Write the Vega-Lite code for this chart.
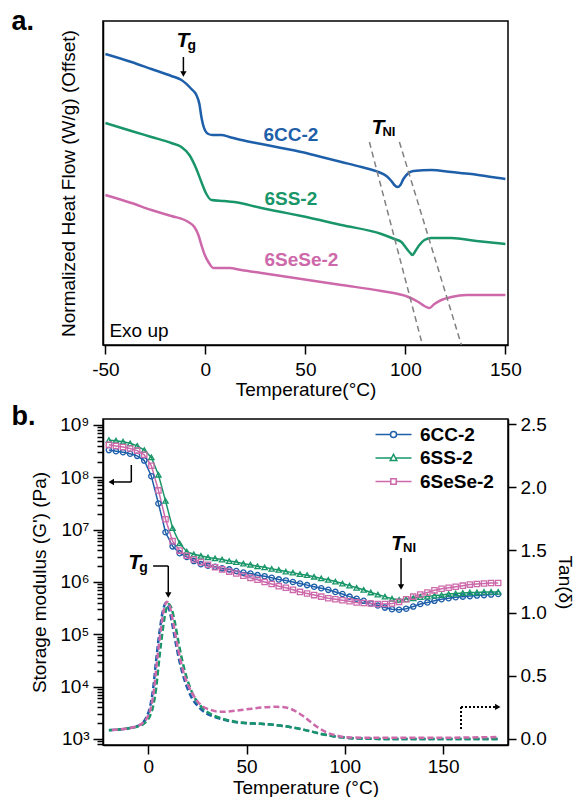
{
"$schema": "https://vega.github.io/schema/vega-lite/v6.json",
"autosize": {"type": "pad"},
"padding": {"left": 10, "top": 7, "right": 0, "bottom": 0},
"background": "white",
"bounds": "flush",
"spacing": 74,
"resolve": {"scale": {"color": "independent"}, "legend": {"color": "independent"}},
"config": {
  "font": "Liberation Sans",
  "view": {"stroke": "black", "strokeWidth": 1.5},
  "axis": {"domainColor": "black", "domainWidth": 1.5, "tickColor": "black", "tickWidth": 1.5, "labelColor": "black", "titleColor": "black", "labelFont": "Liberation Sans", "titleFont": "Liberation Sans", "labelFontSize": 19, "titleFontSize": 19, "titleFontWeight": "normal", "grid": false},
  "text": {"font": "Liberation Sans"}
},
"datasets": {
  "dsc": [
    {"s":"6CC-2","T":-50,"v":291},{"s":"6CC-2","T":-37,"v":283},{"s":"6CC-2","T":-27,"v":276},{"s":"6CC-2","T":-17,"v":269},{"s":"6CC-2","T":-12,"v":265},{"s":"6CC-2","T":-7,"v":256},{"s":"6CC-2","T":-4.5,"v":250},{"s":"6CC-2","T":-3,"v":241},{"s":"6CC-2","T":-2,"v":228},{"s":"6CC-2","T":-1,"v":219},{"s":"6CC-2","T":0,"v":214},{"s":"6CC-2","T":1.5,"v":211},{"s":"6CC-2","T":3.5,"v":210},{"s":"6CC-2","T":8,"v":210},{"s":"6CC-2","T":12,"v":208},{"s":"6CC-2","T":18,"v":205},{"s":"6CC-2","T":28,"v":201},{"s":"6CC-2","T":38,"v":197},{"s":"6CC-2","T":48,"v":193},{"s":"6CC-2","T":58,"v":188},{"s":"6CC-2","T":68,"v":183},{"s":"6CC-2","T":78,"v":178},{"s":"6CC-2","T":86.5,"v":173},{"s":"6CC-2","T":90.5,"v":169},{"s":"6CC-2","T":93,"v":164},{"s":"6CC-2","T":94.5,"v":160},{"s":"6CC-2","T":96,"v":158},{"s":"6CC-2","T":97.5,"v":160},{"s":"6CC-2","T":99,"v":166},{"s":"6CC-2","T":101,"v":171},{"s":"6CC-2","T":104,"v":174},{"s":"6CC-2","T":113,"v":175},{"s":"6CC-2","T":123,"v":173},{"s":"6CC-2","T":133,"v":171},{"s":"6CC-2","T":143,"v":168},{"s":"6CC-2","T":150,"v":166},
    {"s":"6SS-2","T":-50,"v":222},{"s":"6SS-2","T":-37,"v":214},{"s":"6SS-2","T":-27,"v":208},{"s":"6SS-2","T":-17,"v":202},{"s":"6SS-2","T":-12,"v":198},{"s":"6SS-2","T":-8,"v":190},{"s":"6SS-2","T":-4.5,"v":176},{"s":"6SS-2","T":-2,"v":163},{"s":"6SS-2","T":0.5,"v":151},{"s":"6SS-2","T":3,"v":145},{"s":"6SS-2","T":9.5,"v":144},{"s":"6SS-2","T":14.5,"v":143},{"s":"6SS-2","T":28,"v":137},{"s":"6SS-2","T":38,"v":133},{"s":"6SS-2","T":48,"v":129},{"s":"6SS-2","T":68,"v":120},{"s":"6SS-2","T":88,"v":111},{"s":"6SS-2","T":94.5,"v":106},{"s":"6SS-2","T":98,"v":103},{"s":"6SS-2","T":100,"v":98},{"s":"6SS-2","T":102,"v":93},{"s":"6SS-2","T":103.5,"v":90},{"s":"6SS-2","T":105,"v":94},{"s":"6SS-2","T":107,"v":100},{"s":"6SS-2","T":109.5,"v":105},{"s":"6SS-2","T":113,"v":107},{"s":"6SS-2","T":123,"v":107},{"s":"6SS-2","T":135.5,"v":104},{"s":"6SS-2","T":150,"v":101},
    {"s":"6SeSe-2","T":-50,"v":150},{"s":"6SeSe-2","T":-37,"v":142},{"s":"6SeSe-2","T":-27,"v":135},{"s":"6SeSe-2","T":-17,"v":129},{"s":"6SeSe-2","T":-8.5,"v":123},{"s":"6SeSe-2","T":-5.5,"v":118},{"s":"6SeSe-2","T":-3.5,"v":110},{"s":"6SeSe-2","T":-2,"v":100},{"s":"6SeSe-2","T":-0.5,"v":91},{"s":"6SeSe-2","T":1.5,"v":83},{"s":"6SeSe-2","T":4,"v":77},{"s":"6SeSe-2","T":8,"v":77},{"s":"6SeSe-2","T":12,"v":77},{"s":"6SeSe-2","T":18,"v":75},{"s":"6SeSe-2","T":28,"v":72},{"s":"6SeSe-2","T":38,"v":69},{"s":"6SeSe-2","T":48,"v":66},{"s":"6SeSe-2","T":68,"v":60},{"s":"6SeSe-2","T":88,"v":54},{"s":"6SeSe-2","T":101.5,"v":48},{"s":"6SeSe-2","T":106.5,"v":43},{"s":"6SeSe-2","T":109.5,"v":39},{"s":"6SeSe-2","T":112,"v":37},{"s":"6SeSe-2","T":114.5,"v":41},{"s":"6SeSe-2","T":118,"v":45},{"s":"6SeSe-2","T":123,"v":48},{"s":"6SeSe-2","T":130.5,"v":50},{"s":"6SeSe-2","T":140.5,"v":50},{"s":"6SeSe-2","T":150,"v":50}
  ],
  "gp": [
    {"T":-20,"6CC-2":3.31e8,"6SS-2":5.13e8,"6SeSe-2":4.17e8},
    {"T":-16.4,"6CC-2":3.16e8,"6SS-2":5.01e8,"6SeSe-2":3.98e8},
    {"T":-12.8,"6CC-2":3.02e8,"6SS-2":4.79e8,"6SeSe-2":3.80e8},
    {"T":-9.2,"6CC-2":2.82e8,"6SS-2":4.47e8,"6SeSe-2":3.55e8},
    {"T":-5.6,"6CC-2":2.57e8,"6SS-2":3.98e8,"6SeSe-2":3.24e8},
    {"T":-2,"6CC-2":2.09e8,"6SS-2":3.31e8,"6SeSe-2":2.69e8},
    {"T":1.6,"6CC-2":1.05e8,"6SS-2":2.40e8,"6SeSe-2":1.66e8},
    {"T":5.2,"6CC-2":3.16e7,"6SS-2":1.12e8,"6SeSe-2":5.62e7},
    {"T":8.8,"6CC-2":8.91e6,"6SS-2":3.55e7,"6SeSe-2":1.58e7},
    {"T":12.4,"6CC-2":4.79e6,"6SS-2":1.07e7,"6SeSe-2":6.03e6},
    {"T":16,"6CC-2":3.55e6,"6SS-2":5.50e6,"6SeSe-2":3.98e6},
    {"T":19.6,"6CC-2":3.02e6,"6SS-2":3.80e6,"6SeSe-2":3.16e6},
    {"T":23.2,"6CC-2":2.51e6,"6SS-2":3.39e6,"6SeSe-2":2.69e6},
    {"T":26.8,"6CC-2":2.19e6,"6SS-2":3.16e6,"6SeSe-2":2.40e6},
    {"T":30.4,"6CC-2":2.04e6,"6SS-2":2.95e6,"6SeSe-2":2.14e6},
    {"T":34,"6CC-2":1.95e6,"6SS-2":2.82e6,"6SeSe-2":1.91e6},
    {"T":37.6,"6CC-2":1.82e6,"6SS-2":2.69e6,"6SeSe-2":1.74e6},
    {"T":41.2,"6CC-2":1.74e6,"6SS-2":2.51e6,"6SeSe-2":1.58e6},
    {"T":44.8,"6CC-2":1.62e6,"6SS-2":2.40e6,"6SeSe-2":1.45e6},
    {"T":48.4,"6CC-2":1.51e6,"6SS-2":2.24e6,"6SeSe-2":1.32e6},
    {"T":52,"6CC-2":1.45e6,"6SS-2":2.14e6,"6SeSe-2":1.20e6},
    {"T":55.6,"6CC-2":1.35e6,"6SS-2":2.00e6,"6SeSe-2":1.10e6},
    {"T":59.2,"6CC-2":1.29e6,"6SS-2":1.91e6,"6SeSe-2":1.00e6},
    {"T":62.8,"6CC-2":1.20e6,"6SS-2":1.78e6,"6SeSe-2":9.12e5},
    {"T":66.4,"6CC-2":1.12e6,"6SS-2":1.70e6,"6SeSe-2":8.32e5},
    {"T":70,"6CC-2":1.07e6,"6SS-2":1.58e6,"6SeSe-2":7.76e5},
    {"T":73.6,"6CC-2":1.00e6,"6SS-2":1.51e6,"6SeSe-2":7.08e5},
    {"T":77.2,"6CC-2":9.33e5,"6SS-2":1.41e6,"6SeSe-2":6.46e5},
    {"T":80.8,"6CC-2":8.71e5,"6SS-2":1.35e6,"6SeSe-2":6.03e5},
    {"T":84.4,"6CC-2":8.13e5,"6SS-2":1.26e6,"6SeSe-2":5.62e5},
    {"T":88,"6CC-2":7.59e5,"6SS-2":1.17e6,"6SeSe-2":5.25e5},
    {"T":91.6,"6CC-2":7.08e5,"6SS-2":1.10e6,"6SeSe-2":4.90e5},
    {"T":95.2,"6CC-2":6.46e5,"6SS-2":1.02e6,"6SeSe-2":4.68e5},
    {"T":98.8,"6CC-2":5.89e5,"6SS-2":9.33e5,"6SeSe-2":4.47e5},
    {"T":102.4,"6CC-2":5.25e5,"6SS-2":8.51e5,"6SeSe-2":4.27e5},
    {"T":106,"6CC-2":4.79e5,"6SS-2":7.76e5,"6SeSe-2":4.07e5},
    {"T":109.6,"6CC-2":4.37e5,"6SS-2":7.08e5,"6SeSe-2":3.98e5},
    {"T":113.2,"6CC-2":3.89e5,"6SS-2":6.31e5,"6SeSe-2":3.89e5},
    {"T":116.8,"6CC-2":3.55e5,"6SS-2":5.75e5,"6SeSe-2":3.80e5},
    {"T":120.4,"6CC-2":3.24e5,"6SS-2":5.25e5,"6SeSe-2":3.80e5},
    {"T":124,"6CC-2":3.02e5,"6SS-2":4.79e5,"6SeSe-2":3.89e5},
    {"T":127.6,"6CC-2":2.95e5,"6SS-2":4.57e5,"6SeSe-2":4.17e5},
    {"T":131.2,"6CC-2":3.09e5,"6SS-2":4.68e5,"6SeSe-2":4.68e5},
    {"T":134.8,"6CC-2":3.39e5,"6SS-2":4.90e5,"6SeSe-2":5.25e5},
    {"T":138.4,"6CC-2":3.80e5,"6SS-2":5.13e5,"6SeSe-2":5.75e5},
    {"T":142,"6CC-2":4.07e5,"6SS-2":5.25e5,"6SeSe-2":6.31e5},
    {"T":145.6,"6CC-2":4.37e5,"6SS-2":5.50e5,"6SeSe-2":6.92e5},
    {"T":149.2,"6CC-2":4.68e5,"6SS-2":5.62e5,"6SeSe-2":7.41e5},
    {"T":152.8,"6CC-2":4.90e5,"6SS-2":5.89e5,"6SeSe-2":7.76e5},
    {"T":156.4,"6CC-2":5.13e5,"6SS-2":6.03e5,"6SeSe-2":8.13e5},
    {"T":160,"6CC-2":5.25e5,"6SS-2":6.17e5,"6SeSe-2":8.51e5},
    {"T":163.6,"6CC-2":5.37e5,"6SS-2":6.31e5,"6SeSe-2":8.91e5},
    {"T":167.2,"6CC-2":5.50e5,"6SS-2":6.31e5,"6SeSe-2":9.12e5},
    {"T":170.8,"6CC-2":5.62e5,"6SS-2":6.46e5,"6SeSe-2":9.33e5},
    {"T":174.4,"6CC-2":5.75e5,"6SS-2":6.46e5,"6SeSe-2":9.55e5},
    {"T":178,"6CC-2":5.89e5,"6SS-2":6.46e5,"6SeSe-2":9.55e5}
  ],
  "tan": [
    {"s":"6CC-2","T":-20,"tan":0.07},{"s":"6CC-2","T":-15,"tan":0.075},{"s":"6CC-2","T":-10,"tan":0.085},{"s":"6CC-2","T":-6,"tan":0.1},{"s":"6CC-2","T":-3,"tan":0.125},{"s":"6CC-2","T":-1,"tan":0.17},{"s":"6CC-2","T":1,"tan":0.26},{"s":"6CC-2","T":2.5,"tan":0.4},{"s":"6CC-2","T":4,"tan":0.62},{"s":"6CC-2","T":6,"tan":0.88},{"s":"6CC-2","T":7.5,"tan":1.02},{"s":"6CC-2","T":9,"tan":1.08},{"s":"6CC-2","T":10.5,"tan":1.04},{"s":"6CC-2","T":12,"tan":0.93},{"s":"6CC-2","T":14,"tan":0.76},{"s":"6CC-2","T":16,"tan":0.61},{"s":"6CC-2","T":18,"tan":0.49},{"s":"6CC-2","T":20,"tan":0.4},{"s":"6CC-2","T":22,"tan":0.33},{"s":"6CC-2","T":25,"tan":0.265},{"s":"6CC-2","T":28,"tan":0.22},{"s":"6CC-2","T":32,"tan":0.185},{"s":"6CC-2","T":38,"tan":0.155},{"s":"6CC-2","T":44,"tan":0.135},{"s":"6CC-2","T":50,"tan":0.125},{"s":"6CC-2","T":57,"tan":0.12},{"s":"6CC-2","T":65,"tan":0.11},{"s":"6CC-2","T":72,"tan":0.095},{"s":"6CC-2","T":80,"tan":0.07},{"s":"6CC-2","T":88,"tan":0.04},{"s":"6CC-2","T":95,"tan":0.02},{"s":"6CC-2","T":102,"tan":0.008},{"s":"6CC-2","T":110,"tan":0.003},{"s":"6CC-2","T":120,"tan":0},{"s":"6CC-2","T":140,"tan":0},{"s":"6CC-2","T":160,"tan":0},{"s":"6CC-2","T":178,"tan":0},
    {"s":"6SS-2","T":-20,"tan":0.07},{"s":"6SS-2","T":-15,"tan":0.075},{"s":"6SS-2","T":-10,"tan":0.085},{"s":"6SS-2","T":-5,"tan":0.1},{"s":"6SS-2","T":-2,"tan":0.125},{"s":"6SS-2","T":0.5,"tan":0.17},{"s":"6SS-2","T":2.5,"tan":0.26},{"s":"6SS-2","T":4,"tan":0.4},{"s":"6SS-2","T":5.5,"tan":0.62},{"s":"6SS-2","T":7.5,"tan":0.88},{"s":"6SS-2","T":9,"tan":1.02},{"s":"6SS-2","T":10.5,"tan":1.07},{"s":"6SS-2","T":12,"tan":1.03},{"s":"6SS-2","T":13.5,"tan":0.93},{"s":"6SS-2","T":15.5,"tan":0.76},{"s":"6SS-2","T":17.5,"tan":0.61},{"s":"6SS-2","T":19.5,"tan":0.49},{"s":"6SS-2","T":21.5,"tan":0.4},{"s":"6SS-2","T":23.5,"tan":0.33},{"s":"6SS-2","T":26.5,"tan":0.265},{"s":"6SS-2","T":29.5,"tan":0.22},{"s":"6SS-2","T":33.5,"tan":0.185},{"s":"6SS-2","T":39,"tan":0.155},{"s":"6SS-2","T":45,"tan":0.135},{"s":"6SS-2","T":51,"tan":0.125},{"s":"6SS-2","T":58,"tan":0.12},{"s":"6SS-2","T":65,"tan":0.11},{"s":"6SS-2","T":72,"tan":0.095},{"s":"6SS-2","T":80,"tan":0.07},{"s":"6SS-2","T":88,"tan":0.04},{"s":"6SS-2","T":95,"tan":0.02},{"s":"6SS-2","T":102,"tan":0.008},{"s":"6SS-2","T":110,"tan":0.003},{"s":"6SS-2","T":120,"tan":0},{"s":"6SS-2","T":140,"tan":0},{"s":"6SS-2","T":160,"tan":0},{"s":"6SS-2","T":178,"tan":0},
    {"s":"6SeSe-2","T":-20,"tan":0.07},{"s":"6SeSe-2","T":-15,"tan":0.075},{"s":"6SeSe-2","T":-10,"tan":0.085},{"s":"6SeSe-2","T":-6,"tan":0.1},{"s":"6SeSe-2","T":-3,"tan":0.125},{"s":"6SeSe-2","T":-0.5,"tan":0.17},{"s":"6SeSe-2","T":1.5,"tan":0.26},{"s":"6SeSe-2","T":3,"tan":0.4},{"s":"6SeSe-2","T":4.5,"tan":0.62},{"s":"6SeSe-2","T":6.5,"tan":0.88},{"s":"6SeSe-2","T":8,"tan":1.03},{"s":"6SeSe-2","T":9.5,"tan":1.09},{"s":"6SeSe-2","T":11,"tan":1.05},{"s":"6SeSe-2","T":12.5,"tan":0.94},{"s":"6SeSe-2","T":14.5,"tan":0.77},{"s":"6SeSe-2","T":16.5,"tan":0.62},{"s":"6SeSe-2","T":18.5,"tan":0.5},{"s":"6SeSe-2","T":20.5,"tan":0.42},{"s":"6SeSe-2","T":22.5,"tan":0.36},{"s":"6SeSe-2","T":25,"tan":0.3},{"s":"6SeSe-2","T":28,"tan":0.255},{"s":"6SeSe-2","T":32,"tan":0.23},{"s":"6SeSe-2","T":36,"tan":0.215},{"s":"6SeSe-2","T":42,"tan":0.22},{"s":"6SeSe-2","T":50,"tan":0.235},{"s":"6SeSe-2","T":58,"tan":0.25},{"s":"6SeSe-2","T":65,"tan":0.255},{"s":"6SeSe-2","T":70,"tan":0.25},{"s":"6SeSe-2","T":75,"tan":0.22},{"s":"6SeSe-2","T":79,"tan":0.18},{"s":"6SeSe-2","T":83,"tan":0.13},{"s":"6SeSe-2","T":87,"tan":0.085},{"s":"6SeSe-2","T":91,"tan":0.05},{"s":"6SeSe-2","T":95,"tan":0.03},{"s":"6SeSe-2","T":100,"tan":0.015},{"s":"6SeSe-2","T":110,"tan":0.01},{"s":"6SeSe-2","T":130,"tan":0.01},{"s":"6SeSe-2","T":150,"tan":0.01},{"s":"6SeSe-2","T":165,"tan":0.012},{"s":"6SeSe-2","T":178,"tan":0.015}
  ]
},
"vconcat": [
  {
    "width": 405, "height": 324,
    "layer": [
      {"data": {"name": "dsc"}, "mark": {"type": "line", "strokeWidth": 2.5, "interpolate": "monotone"},
       "encoding": {
         "x": {"field": "T", "type": "quantitative", "title": "Temperature(°C)", "scale": {"domain": [-51.2, 151.3], "nice": false, "zero": false}, "axis": {"values": [-50, 0, 50, 100, 150], "labelExpr": "toString(datum.value)", "tickSize": 9, "labelPadding": 6, "titleY": 50, "titleBaseline": "alphabetic"}},
         "y": {"field": "v", "type": "quantitative", "title": "Normalized Heat Flow (W/g) (Offset)", "scale": {"domain": [0, 324], "nice": false, "zero": false}, "axis": {"labels": false, "ticks": false, "titleX": -35, "titleBaseline": "middle"}},
         "color": {"field": "s", "type": "nominal", "scale": {"domain": ["6CC-2", "6SS-2", "6SeSe-2"], "range": ["#1e5faa", "#199669", "#cd69aa"]}, "legend": null}
       }},
      {"data": {"values": [{}]}, "mark": {"type": "text", "text": "a.", "align": "left", "baseline": "alphabetic", "fontSize": 27, "fontWeight": "bold", "color": "black"},
       "encoding": {"x": {"datum": -97, "type": "quantitative"}, "y": {"datum": 315, "type": "quantitative"}}},
      {"data": {"values": [{}]}, "mark": {"type": "rule", "color": "#808080", "strokeWidth": 1.5, "strokeDash": [6, 4]},
       "encoding": {"x": {"datum": 82, "type": "quantitative"}, "x2": {"datum": 108}, "y": {"datum": 203, "type": "quantitative"}, "y2": {"datum": 4}}},
      {"data": {"values": [{}]}, "mark": {"type": "rule", "color": "#808080", "strokeWidth": 1.5, "strokeDash": [6, 4]},
       "encoding": {"x": {"datum": 97, "type": "quantitative"}, "x2": {"datum": 128}, "y": {"datum": 203, "type": "quantitative"}, "y2": {"datum": 0}}},
      {"data": {"values": [{}]}, "mark": {"type": "text", "text": "T", "align": "left", "baseline": "alphabetic", "fontSize": 21, "fontWeight": "bold", "fontStyle": "italic", "color": "black"},
       "encoding": {"x": {"datum": -14.5, "type": "quantitative"}, "y": {"datum": 298, "type": "quantitative"}}},
      {"data": {"values": [{}]}, "mark": {"type": "text", "text": "g", "align": "left", "baseline": "alphabetic", "fontSize": 14, "fontWeight": "bold", "color": "black"},
       "encoding": {"x": {"datum": -9, "type": "quantitative"}, "y": {"datum": 295, "type": "quantitative"}}},
      {"data": {"values": [{}]}, "mark": {"type": "rule", "color": "black", "strokeWidth": 1.5},
       "encoding": {"x": {"datum": -11, "type": "quantitative"}, "y": {"datum": 288, "type": "quantitative"}, "y2": {"datum": 273}}},
      {"data": {"values": [{}]}, "mark": {"type": "point", "shape": "triangle-down", "filled": true, "size": 40, "color": "black", "opacity": 1},
       "encoding": {"x": {"datum": -11, "type": "quantitative"}, "y": {"datum": 271, "type": "quantitative"}}},
      {"data": {"values": [{}]}, "mark": {"type": "text", "text": "T", "align": "left", "baseline": "alphabetic", "fontSize": 21, "fontWeight": "bold", "fontStyle": "italic", "color": "black"},
       "encoding": {"x": {"datum": 83, "type": "quantitative"}, "y": {"datum": 211, "type": "quantitative"}}},
      {"data": {"values": [{}]}, "mark": {"type": "text", "text": "NI", "align": "left", "baseline": "alphabetic", "fontSize": 13, "fontWeight": "bold", "color": "black"},
       "encoding": {"x": {"datum": 88.5, "type": "quantitative"}, "y": {"datum": 209, "type": "quantitative"}}},
      {"data": {"values": [{}]}, "mark": {"type": "text", "text": "6CC-2", "align": "left", "baseline": "middle", "fontSize": 19, "fontWeight": "bold", "color": "#1e5faa"},
       "encoding": {"x": {"datum": 29, "type": "quantitative"}, "y": {"datum": 210, "type": "quantitative"}}},
      {"data": {"values": [{}]}, "mark": {"type": "text", "text": "6SS-2", "align": "left", "baseline": "middle", "fontSize": 19, "fontWeight": "bold", "color": "#199669"},
       "encoding": {"x": {"datum": 29.5, "type": "quantitative"}, "y": {"datum": 146, "type": "quantitative"}}},
      {"data": {"values": [{}]}, "mark": {"type": "text", "text": "6SeSe-2", "align": "left", "baseline": "middle", "fontSize": 19, "fontWeight": "bold", "color": "#cd69aa"},
       "encoding": {"x": {"datum": 29.5, "type": "quantitative"}, "y": {"datum": 85, "type": "quantitative"}}},
      {"data": {"values": [{}]}, "mark": {"type": "text", "text": "Exo up", "align": "left", "baseline": "alphabetic", "fontSize": 19, "color": "black"},
       "encoding": {"x": {"datum": -48, "type": "quantitative"}, "y": {"datum": 8, "type": "quantitative"}}}
    ]
  },
  {
    "width": 405, "height": 326,
    "layer": [
      {
        "data": {"name": "gp"},
        "transform": [{"fold": ["6CC-2", "6SS-2", "6SeSe-2"], "as": ["s", "G"]}],
        "layer": [
          {"mark": {"type": "line", "strokeWidth": 1.5},
           "encoding": {
             "x": {"field": "T", "type": "quantitative", "title": "Temperature (°C)", "scale": {"domain": [-23, 183], "nice": false, "zero": false}, "axis": {"values": [0, 50, 100, 150], "tickSize": 9, "labelPadding": 3, "titleY": 48, "titleBaseline": "alphabetic"}},
             "y": {"field": "G", "type": "quantitative", "title": "Storage modulus (G') (Pa)", "scale": {"type": "log", "domain": [768, 1.3e9], "nice": false},
                   "axis": {"values": [800,900,1000,2000,3000,4000,5000,6000,7000,8000,9000,10000,20000,30000,40000,50000,60000,70000,80000,90000,100000,200000,300000,400000,500000,600000,700000,800000,900000,1000000,2000000,3000000,4000000,5000000,6000000,7000000,8000000,9000000,10000000,20000000,30000000,40000000,50000000,60000000,70000000,80000000,90000000,100000000,200000000,300000000,400000000,500000000,600000000,700000000,800000000,900000000,1000000000],
                            "labelExpr": "abs(log(datum.value)/LN10 - round(log(datum.value)/LN10)) < 0.01 ? '10' + ['⁰','¹','²','³','⁴','⁵','⁶','⁷','⁸','⁹'][round(log(datum.value)/LN10)] : ''",
                            "labelOverlap": false, "labelFlush": false, "labelPadding": 4,
                            "tickSize": {"condition": {"test": "abs(log(datum.value)/LN10 - round(log(datum.value)/LN10)) < 0.01", "value": 10}, "value": 6},
                            "titleX": -64, "titleBaseline": "middle"}},
             "color": {"field": "s", "type": "nominal", "scale": {"domain": ["6CC-2", "6SS-2", "6SeSe-2"], "range": ["#1e5faa", "#199669", "#cd69aa"]},
                       "legend": {"orient": "none", "legendX": 281, "legendY": 6, "title": null, "labelFontSize": 19, "labelFontWeight": "bold", "labelColor": "black", "labelFont": "Liberation Sans", "symbolSize": 36, "symbolStrokeWidth": 1.5, "labelOffset": 17, "rowPadding": 3.5, "padding": 0,
                                  "encode": {"symbols": {"update": {"shape": {"signal": "datum.value === '6CC-2' ? 'M-6,0H-1M1,0H6M1,0A1,1,0,1,1,-1,0A1,1,0,1,1,1,0Z' : datum.value === '6SS-2' ? 'M-6,0H-0.66M0.66,0H6M0,-1.2L1.1,0.8L-1.1,0.8Z' : 'M-6,0H-0.9M0.9,0H6M-0.9,-0.9H0.9V0.9H-0.9Z'"}, "fill": {"value": "white"}, "fillOpacity": {"value": 1}}}}}}
           }},
          {"mark": {"type": "point", "filled": false, "size": 28, "strokeWidth": 1.3, "opacity": 1},
           "encoding": {
             "x": {"field": "T", "type": "quantitative"},
             "y": {"field": "G", "type": "quantitative"},
             "color": {"field": "s", "type": "nominal"},
             "shape": {"field": "s", "type": "nominal", "scale": {"domain": ["6CC-2", "6SS-2", "6SeSe-2"], "range": ["circle", "triangle-up", "square"]}, "legend": null}
           }}
        ]
      },
      {
        "layer": [
          {"data": {"name": "tan"}, "transform": [{"filter": "datum.s === '6CC-2'"}],
           "mark": {"type": "line", "strokeWidth": 2.5, "strokeDash": [6, 3], "strokeDashOffset": 0, "interpolate": "monotone"},
           "encoding": {
             "x": {"field": "T", "type": "quantitative"},
             "y": {"field": "tan", "type": "quantitative", "title": "Tan(δ)", "scale": {"domain": [-0.048, 2.54], "nice": false, "zero": false}, "axis": {"orient": "right", "values": [0, 0.5, 1, 1.5, 2, 2.5], "format": ".1f", "tickSize": 8, "labelPadding": 4, "titleX": 56, "titleBaseline": "middle"}},
             "color": {"field": "s", "type": "nominal"}
           }},
          {"data": {"name": "tan"}, "transform": [{"filter": "datum.s === '6SS-2'"}],
           "mark": {"type": "line", "strokeWidth": 2.5, "strokeDash": [6, 3], "strokeDashOffset": 3, "interpolate": "monotone"},
           "encoding": {
             "x": {"field": "T", "type": "quantitative"},
             "y": {"field": "tan", "type": "quantitative"},
             "color": {"field": "s", "type": "nominal"}
           }},
          {"data": {"name": "tan"}, "transform": [{"filter": "datum.s === '6SeSe-2'"}],
           "mark": {"type": "line", "strokeWidth": 2.5, "strokeDash": [6, 3], "strokeDashOffset": 6, "interpolate": "monotone"},
           "encoding": {
             "x": {"field": "T", "type": "quantitative"},
             "y": {"field": "tan", "type": "quantitative"},
             "color": {"field": "s", "type": "nominal"}
           }},
          {"data": {"values": [{}]}, "mark": {"type": "text", "text": "b.", "align": "left", "baseline": "alphabetic", "fontSize": 27, "fontWeight": "bold", "color": "black"},
           "encoding": {"x": {"datum": -69.6, "type": "quantitative"}, "y": {"datum": 2.492, "type": "quantitative"}}},
          {"data": {"values": [{}]}, "mark": {"type": "text", "text": "T", "align": "left", "baseline": "alphabetic", "fontSize": 21, "fontWeight": "bold", "fontStyle": "italic", "color": "black"},
           "encoding": {"x": {"datum": -10.2, "type": "quantitative"}, "y": {"datum": 1.349, "type": "quantitative"}}},
          {"data": {"values": [{}]}, "mark": {"type": "text", "text": "g", "align": "left", "baseline": "alphabetic", "fontSize": 14, "fontWeight": "bold", "color": "black"},
           "encoding": {"x": {"datum": -4.6, "type": "quantitative"}, "y": {"datum": 1.325, "type": "quantitative"}}},
          {"data": {"values": [{}]}, "mark": {"type": "rule", "color": "black", "strokeWidth": 1.5},
           "encoding": {"x": {"datum": 2.5, "type": "quantitative"}, "x2": {"datum": 10.2}, "y": {"datum": 1.373, "type": "quantitative"}}},
          {"data": {"values": [{}]}, "mark": {"type": "rule", "color": "black", "strokeWidth": 1.5},
           "encoding": {"x": {"datum": 10.2, "type": "quantitative"}, "y": {"datum": 1.373, "type": "quantitative"}, "y2": {"datum": 1.16}}},
          {"data": {"values": [{}]}, "mark": {"type": "point", "shape": "triangle-down", "filled": true, "size": 40, "color": "black", "opacity": 1},
           "encoding": {"x": {"datum": 10.2, "type": "quantitative"}, "y": {"datum": 1.143, "type": "quantitative"}}},
          {"data": {"values": [{}]}, "mark": {"type": "text", "text": "T", "align": "left", "baseline": "alphabetic", "fontSize": 21, "fontWeight": "bold", "fontStyle": "italic", "color": "black"},
           "encoding": {"x": {"datum": 123.5, "type": "quantitative"}, "y": {"datum": 1.5, "type": "quantitative"}}},
          {"data": {"values": [{}]}, "mark": {"type": "text", "text": "NI", "align": "left", "baseline": "alphabetic", "fontSize": 13, "fontWeight": "bold", "color": "black"},
           "encoding": {"x": {"datum": 129.6, "type": "quantitative"}, "y": {"datum": 1.484, "type": "quantitative"}}},
          {"data": {"values": [{}]}, "mark": {"type": "rule", "color": "black", "strokeWidth": 1.5},
           "encoding": {"x": {"datum": 128.6, "type": "quantitative"}, "y": {"datum": 1.437, "type": "quantitative"}, "y2": {"datum": 1.222}}},
          {"data": {"values": [{}]}, "mark": {"type": "point", "shape": "triangle-down", "filled": true, "size": 40, "color": "black", "opacity": 1},
           "encoding": {"x": {"datum": 128.6, "type": "quantitative"}, "y": {"datum": 1.206, "type": "quantitative"}}},
          {"data": {"values": [{}]}, "mark": {"type": "rule", "color": "black", "strokeWidth": 1.5},
           "encoding": {"x": {"datum": -8.6, "type": "quantitative"}, "y": {"datum": 2.175, "type": "quantitative"}, "y2": {"datum": 2.04}}},
          {"data": {"values": [{}]}, "mark": {"type": "rule", "color": "black", "strokeWidth": 1.5},
           "encoding": {"x": {"datum": -8.6, "type": "quantitative"}, "x2": {"datum": -17.5}, "y": {"datum": 2.04, "type": "quantitative"}}},
          {"data": {"values": [{}]}, "mark": {"type": "point", "shape": "triangle-left", "filled": true, "size": 40, "color": "black", "opacity": 1},
           "encoding": {"x": {"datum": -18.8, "type": "quantitative"}, "y": {"datum": 2.04, "type": "quantitative"}}},
          {"data": {"values": [{}]}, "mark": {"type": "rule", "color": "black", "strokeWidth": 2, "strokeDash": [2, 2]},
           "encoding": {"x": {"datum": 159.1, "type": "quantitative"}, "y": {"datum": 0.079, "type": "quantitative"}, "y2": {"datum": 0.254}}},
          {"data": {"values": [{}]}, "mark": {"type": "rule", "color": "black", "strokeWidth": 2, "strokeDash": [2, 2]},
           "encoding": {"x": {"datum": 159.1, "type": "quantitative"}, "x2": {"datum": 176.4}, "y": {"datum": 0.254, "type": "quantitative"}}},
          {"data": {"values": [{}]}, "mark": {"type": "point", "shape": "triangle-right", "filled": true, "size": 40, "color": "black", "opacity": 1},
           "encoding": {"x": {"datum": 177.8, "type": "quantitative"}, "y": {"datum": 0.254, "type": "quantitative"}}}
        ]
      }
    ],
    "resolve": {"scale": {"y": "independent"}}
  }
]
}
